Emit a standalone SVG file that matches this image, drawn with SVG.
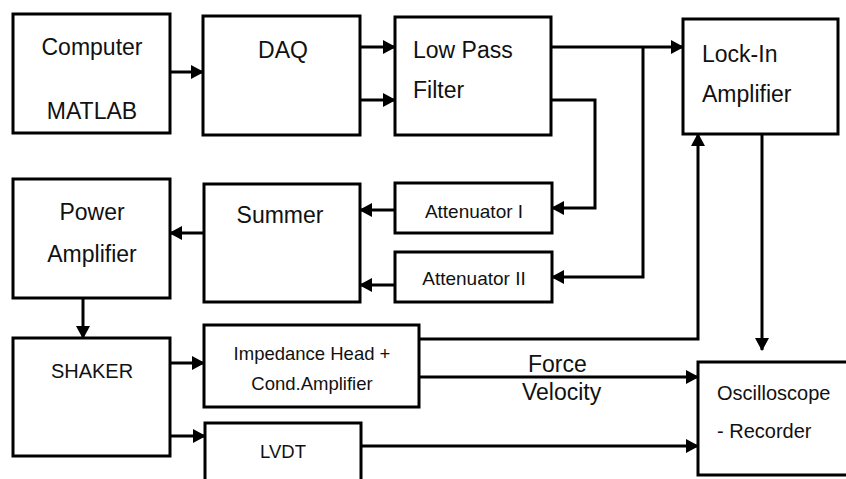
<svg xmlns="http://www.w3.org/2000/svg" width="846" height="479" viewBox="0 0 846 479">
<style>
.box{fill:#fff;stroke:#000;stroke-width:3}
.t{font-family:"Liberation Sans",Arial,sans-serif;font-size:23px;fill:#111}
.s{font-size:19px}
.m{font-size:20px}
.i{font-size:18.5px}
.c{text-anchor:middle}
.ln{fill:none;stroke:#000;stroke-width:3}
</style>
<defs>
<marker id="ah" markerUnits="userSpaceOnUse" markerWidth="13" markerHeight="14" refX="12" refY="7" orient="auto">
<path d="M0,0 L13,7 L0,14 z" fill="#000"/>
</marker>
</defs>
<rect width="846" height="479" fill="#fff"/>
<g id="computer"><rect class="box" x="13" y="14" width="157" height="119"/><text class="t c" x="92" y="55">Computer</text><text class="t c" x="92" y="119">MATLAB</text></g>
<g id="daq"><rect class="box" x="203" y="16" width="157" height="119"/><text class="t c" x="283" y="58">DAQ</text></g>
<g id="lpf"><rect class="box" x="395" y="17" width="156" height="118"/><text class="t" x="413" y="58">Low Pass</text><text class="t" x="413" y="98">Filter</text></g>
<g id="lockin"><rect class="box" x="683" y="19" width="155" height="115"/><text class="t" x="702" y="62">Lock-In</text><text class="t" x="702" y="102">Amplifier</text></g>
<g id="poweramp"><rect class="box" x="13" y="179" width="157" height="119"/><text class="t c" x="92" y="220">Power</text><text class="t c" x="92" y="262">Amplifier</text></g>
<g id="summer"><rect class="box" x="204" y="184" width="156" height="118"/><text class="t c" x="280" y="223">Summer</text></g>
<g id="att1"><rect class="box" x="395" y="183" width="157" height="50"/><text class="t c s" x="474" y="218">Attenuator I</text></g>
<g id="att2"><rect class="box" x="395" y="252" width="157" height="50"/><text class="t c s" x="474" y="285">Attenuator II</text></g>
<g id="shaker"><rect class="box" x="13" y="338" width="157" height="118"/><text class="t c m" x="92" y="378">SHAKER</text></g>
<g id="impedance"><rect class="box" x="204" y="325" width="215" height="82"/><text class="t c i" x="312" y="360">Impedance Head +</text><text class="t c i" x="312" y="390">Cond.Amplifier</text></g>
<g id="lvdt"><rect class="box" x="205" y="423" width="156" height="70"/><text class="t c i" x="283" y="458">LVDT</text></g>
<g id="oscilloscope"><rect class="box" x="698" y="362" width="160" height="113"/><text class="t m" x="717" y="400">Oscilloscope</text><text class="t m" x="717" y="438">- Recorder</text></g>
<g id="labels"><text class="t" x="528" y="372">Force</text><text class="t" x="522" y="400">Velocity</text></g>
<g id="connectors">
<path class="ln" d="M170,72 H203" marker-end="url(#ah)"/>
<path class="ln" d="M360,47 H395" marker-end="url(#ah)"/>
<path class="ln" d="M360,100 H395" marker-end="url(#ah)"/>
<path class="ln" d="M551,47 H683" marker-end="url(#ah)"/>
<path class="ln" d="M551,100 H595 V208 H552" marker-end="url(#ah)"/>
<path class="ln" d="M643,47 V277 H552" marker-end="url(#ah)"/>
<path class="ln" d="M395,210 H360" marker-end="url(#ah)"/>
<path class="ln" d="M395,285 H360" marker-end="url(#ah)"/>
<path class="ln" d="M204,233 H170" marker-end="url(#ah)"/>
<path class="ln" d="M83,298 V338" marker-end="url(#ah)"/>
<path class="ln" d="M170,363 H204" marker-end="url(#ah)"/>
<path class="ln" d="M170,436 H205" marker-end="url(#ah)"/>
<path class="ln" d="M419,339 H698 V134" marker-end="url(#ah)"/>
<path class="ln" d="M419,377 H698" marker-end="url(#ah)"/>
<path class="ln" d="M361,446 H698" marker-end="url(#ah)"/>
<path class="ln" d="M762,134 V350" marker-end="url(#ah)"/>
</g>
</svg>
